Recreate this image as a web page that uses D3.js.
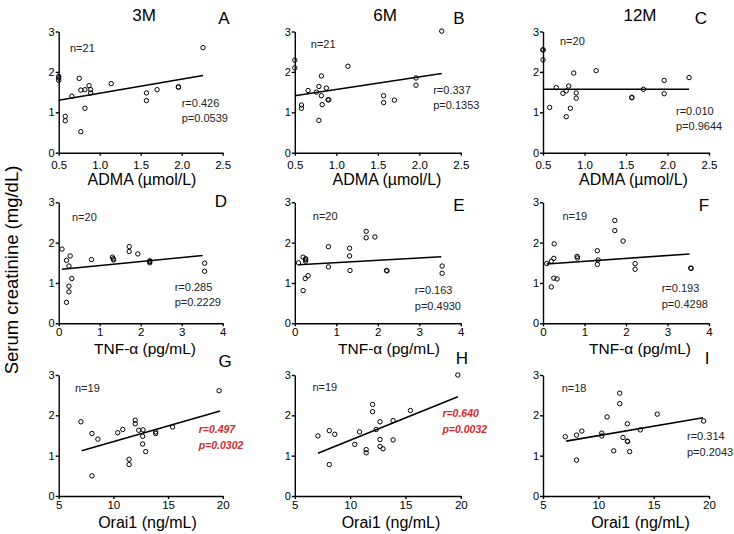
<!DOCTYPE html>
<html>
<head>
<meta charset="utf-8">
<script src="https://cdn.jsdelivr.net/npm/d3@7"></script>
<style>
  body { margin: 0; background: #fff; }
  svg { font-family: "Liberation Sans", Arial, sans-serif; }
  .axis path, .axis line { stroke: #000; stroke-width: 1.4; }
  .axis text { fill: #000; }
</style>
</head>
<body>
<div id="chart"></div>
<script>
// ---- data ----
const colTitles = ['3M', '6M', '12M'];
const panelLetters = ['A', 'B', 'C', 'D', 'E', 'F', 'G', 'H', 'I'];
const xLabels = ['ADMA (µmol/L)', 'TNF-α (pg/mL)', 'Orai1 (ng/mL)'];
const xDomains = [[0.5, 2.5], [0, 4], [5, 20]];
const xTicks = [[0.5, 1.0, 1.5, 2.0, 2.5], [0, 1, 2, 3, 4], [5, 10, 15, 20]];
const yTicks = [0, 1, 2, 3];
const nLabels = ['n=21', 'n=21', 'n=20', 'n=20', 'n=20', 'n=19', 'n=19', 'n=19', 'n=18'];
const rLabels = ['r=0.426', 'r=0.337', 'r=0.010', 'r=0.285', 'r=0.163', 'r=0.193', 'r=0.497', 'r=0.640', 'r=0.314'];
const pLabels = ['p=0.0539', 'p=0.1353', 'p=0.9644', 'p=0.2229', 'p=0.4930', 'p=0.4298', 'p=0.0302', 'p=0.0032', 'p=0.2043'];
const significant = [false, false, false, false, false, false, true, true, false];

// serum creatinine vs ADMA
const ptsA = [[0.5, 1.89], [0.5, 1.79], [0.5, 1.85], [0.58, 0.90], [0.58, 0.79], [0.66, 1.40], [0.75, 1.84],
  [0.77, 1.55], [0.77, 0.52], [0.82, 1.56], [0.82, 1.10], [0.87, 1.66], [0.89, 1.56], [0.89, 1.48],
  [1.14, 1.71], [1.57, 1.48], [1.57, 1.29], [1.70, 1.56], [1.96, 1.63], [1.96, 1.62], [2.26, 2.60]];
const ptsB = [[0.5, 2.29], [0.5, 2.10], [0.58, 1.18], [0.58, 1.10], [0.66, 1.54], [0.76, 1.50], [0.79, 1.64],
  [0.79, 0.80], [0.82, 1.90], [0.82, 1.41], [0.83, 1.19], [0.88, 1.60], [0.90, 1.31], [0.91, 1.31],
  [1.14, 2.14], [1.57, 1.41], [1.57, 1.24], [1.70, 1.30], [1.96, 1.85], [1.96, 1.67], [2.27, 3.01]];
const ptsC = [[0.5, 2.55], [0.5, 2.54], [0.5, 2.30], [0.58, 1.12], [0.66, 1.61], [0.74, 1.47], [0.78, 1.53],
  [0.78, 0.89], [0.81, 1.65], [0.83, 1.10], [0.87, 1.97], [0.90, 1.48], [0.90, 1.35], [1.14, 2.03],
  [1.57, 1.36], [1.57, 1.37], [1.71, 1.57], [1.96, 1.79], [1.96, 1.46], [2.26, 1.86]];
// serum creatinine vs TNF-alpha
const ptsD = [[0.08, 1.84], [0.19, 1.56], [0.19, 0.52], [0.28, 1.67], [0.25, 1.42], [0.25, 0.92], [0.25, 0.78],
  [0.32, 1.11], [0.80, 1.58], [1.31, 1.64], [1.33, 1.60], [1.34, 1.57], [1.72, 1.90], [1.72, 1.78],
  [1.93, 1.72], [2.22, 1.55], [2.22, 1.53], [2.22, 1.50], [3.56, 1.49], [3.56, 1.29]];
const ptsE = [[0.09, 1.50], [0.20, 1.64], [0.20, 0.81], [0.26, 1.60], [0.26, 1.58], [0.26, 1.54], [0.25, 1.11],
  [0.32, 1.18], [0.81, 1.90], [0.81, 1.40], [1.32, 1.86], [1.32, 1.67], [1.33, 1.31], [1.72, 2.28],
  [1.72, 2.12], [1.93, 2.14], [2.21, 1.31], [2.22, 1.30], [3.55, 1.42], [3.55, 1.24]];
const ptsF = [[0.09, 1.48], [0.20, 1.54], [0.20, 0.90], [0.26, 1.61], [0.27, 1.97], [0.26, 1.12], [0.34, 1.10],
  [0.82, 1.66], [0.83, 1.62], [1.31, 1.80], [1.33, 1.57], [1.31, 1.46], [1.73, 2.55], [1.73, 2.30],
  [1.93, 2.04], [2.22, 1.48], [2.22, 1.34], [3.56, 1.37], [3.57, 1.36]];
// serum creatinine vs Orai1
const ptsG = [[7.03, 1.84], [8.04, 1.55], [8.04, 0.50], [8.58, 1.41], [10.4, 1.57], [10.86, 1.65], [11.44, 0.91],
  [11.44, 0.78], [12.0, 1.88], [12.0, 1.79], [12.32, 1.63], [12.71, 1.64], [12.68, 1.48], [12.68, 1.29],
  [12.96, 1.10], [13.87, 1.59], [13.87, 1.55], [15.42, 1.71], [19.67, 2.61]];
const ptsH = [[7.09, 1.49], [8.12, 1.62], [8.12, 0.78], [8.61, 1.53], [10.42, 1.28], [10.85, 1.59], [11.45, 1.15],
  [11.45, 1.07], [12.03, 2.27], [12.03, 2.09], [12.36, 1.65], [12.70, 1.84], [12.70, 1.40], [12.70, 1.23],
  [12.97, 1.17], [13.88, 1.87], [13.88, 1.39], [15.45, 2.12], [19.73, 3.0]];
const ptsI = [[7.01, 1.47], [8.03, 1.51], [8.03, 0.89], [8.51, 1.61], [10.31, 1.56], [10.31, 1.49], [10.79, 1.96],
  [11.39, 1.12], [11.93, 2.55], [11.93, 2.29], [12.23, 1.45], [12.62, 1.79], [12.62, 1.36], [12.65, 1.35],
  [12.83, 1.10], [13.79, 1.64], [15.32, 2.03], [19.52, 1.86]];

// regression line end points (as drawn)
const fitA = [[0.5, 1.30], [2.26, 1.91]];
const fitB = [[0.5, 1.41], [2.27, 1.96]];
const fitC = [[0.5, 1.57], [2.26, 1.57]];
const fitD = [[0.08, 1.34], [3.51, 1.68]];
const fitE = [[0.09, 1.45], [3.53, 1.65]];
const fitF = [[0.09, 1.47], [3.53, 1.72]];
const fitG = [[7.1, 1.12], [19.76, 2.11]];
const fitH = [[7.09, 1.06], [19.73, 2.46]];
const fitI = [[7.1, 1.36], [19.46, 1.94]];

const points = [ptsA, ptsB, ptsC, ptsD, ptsE, ptsF, ptsG, ptsH, ptsI];
const fits = [fitA, fitB, fitC, fitD, fitE, fitF, fitG, fitH, fitI];

// ---- layout ----
const W = 734, H = 534;
const colLeft = [58.7, 294.8, 543];
const colWidth = [164, 166, 166];
const rowTop = [31.5, 202.3, 375];
const rowHeight = [121.2, 121, 121];
const xTickPad = [5, 2, 2];
const xLabelY = [185, 353.5, 528];
const xLabelSize = [16, 15.5, 16];
const xLabelX = [[142, 387, 633.5], [145, 389, 640], [147.5, 391, 640.5]];
const titleX = [144, 385, 640];
const letterPos = [[224, 24], [459, 23.5], [701, 24], [221, 207], [459, 211], [704, 211], [225, 367], [462, 364], [707, 364]];
// text offsets inside each plot: [nx, ny, rx, ry]
const annotPos = [[11.3, 20, 123, 75], [16, 16, 138.4, 62], [17, 13, 133, 83],
  [13.3, 19, 116, 88.5], [18, 18, 120, 92], [19.4, 17.5, 118.7, 90],
  [16.3, 17, 140, 58], [17.6, 15.7, 147.6, 42], [18.7, 17, 144, 65]];

const svg = d3.select('#chart')
  .append('svg')
  .attr('width', W)
  .attr('height', H);

// column titles
svg.selectAll('.col-title')
  .data(colTitles)
  .join('text')
  .attr('class', 'col-title')
  .attr('x', (d, i) => titleX[i])
  .attr('y', 21)
  .attr('text-anchor', 'middle')
  .style('font-size', '17px')
  .text(d => d);

// shared y label
svg.append('text')
  .attr('transform', 'translate(18,270) rotate(-90)')
  .attr('text-anchor', 'middle')
  .style('font-size', '18.5px')
  .text('Serum creatinine (mg/dL)');

points.forEach((pts, k) => {
  const row = Math.floor(k / 3), col = k % 3;
  const w = colWidth[col], h = rowHeight[row];
  const g = svg.append('g')
    .attr('transform', `translate(${colLeft[col]},${rowTop[row]})`);

  const x = d3.scaleLinear().domain(xDomains[row]).range([0, w]);
  const y = d3.scaleLinear().domain([0, 3]).range([h, 0]);

  const xAxis = d3.axisBottom(x)
    .tickValues(xTicks[row])
    .tickFormat(row === 0 ? d3.format('.1f') : d3.format('d'))
    .tickSize(3).tickSizeOuter(0).tickPadding(xTickPad[row]);
  g.append('g')
    .attr('class', 'axis')
    .attr('transform', `translate(0,${h})`)
    .call(xAxis)
    .selectAll('text')
    .style('font-size', '11.5px');

  const yAxis = d3.axisLeft(y)
    .tickValues(yTicks)
    .tickFormat(d3.format('d'))
    .tickSize(3).tickSizeOuter(0).tickPadding(1);
  g.append('g')
    .attr('class', 'axis')
    .call(yAxis)
    .selectAll('text')
    .style('font-size', '11px');

  // regression line
  g.append('path')
    .datum(fits[k])
    .attr('fill', 'none')
    .attr('stroke', '#000')
    .attr('stroke-width', 1.6)
    .attr('d', d3.line().x(d => x(d[0])).y(d => y(d[1])));

  // open circles
  g.selectAll('circle')
    .data(pts)
    .join('circle')
    .attr('cx', d => x(d[0]))
    .attr('cy', d => y(d[1]))
    .attr('r', 2.2)
    .attr('fill', 'none')
    .attr('stroke', '#000')
    .attr('stroke-width', 1);

  const a = annotPos[k];
  g.append('text')
    .attr('x', a[0]).attr('y', a[1])
    .style('font-size', '11px')
    .style('fill', '#222')
    .text(nLabels[k]);

  const sig = significant[k];
  [rLabels[k], pLabels[k]].forEach((t, j) => {
    g.append('text')
      .attr('x', a[2]).attr('y', a[3] + j * 15.5)
      .style('font-size', sig ? '10.5px' : '11px')
      .style('font-weight', sig ? 'bold' : 'normal')
      .style('font-style', sig ? 'italic' : 'normal')
      .style('fill', sig ? '#d42a2a' : '#222')
      .text(t);
  });

  // x axis label
  svg.append('text')
    .attr('x', xLabelX[row][col])
    .attr('y', xLabelY[row])
    .attr('text-anchor', 'middle')
    .style('font-size', xLabelSize[row] + 'px')
    .text(xLabels[row]);

  // panel letter
  svg.append('text')
    .attr('x', letterPos[k][0])
    .attr('y', letterPos[k][1])
    .attr('text-anchor', 'middle')
    .style('font-size', '17px')
    .text(panelLetters[k]);
});
</script>
</body>
</html>
